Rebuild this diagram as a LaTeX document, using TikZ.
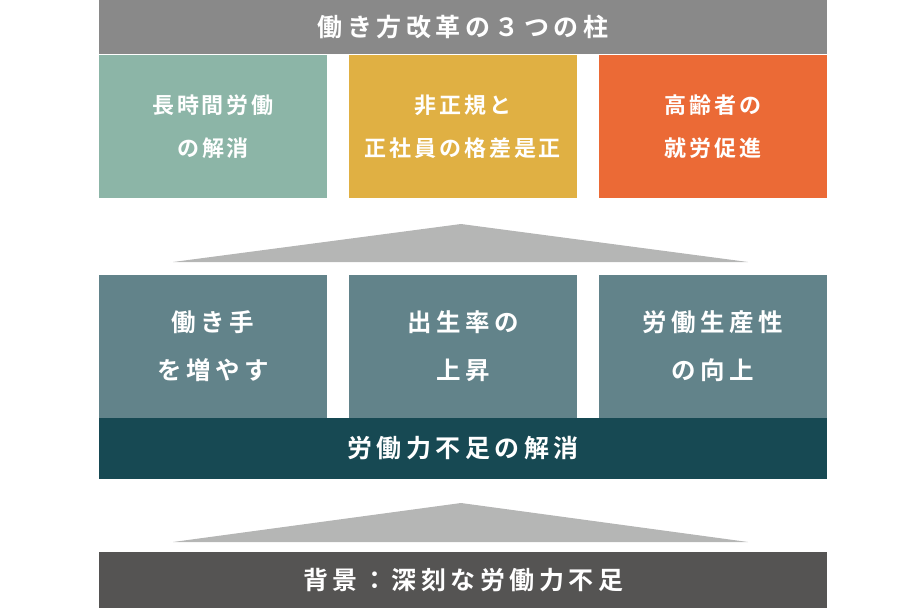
\documentclass[tikz,border=0pt]{standalone}
\usepackage{fontspec}
\setmainfont{Noto Sans CJK JP}[BoldFont={Noto Sans CJK JP Bold}]
\newfontfamily\boxfont{Noto Sans CJK JP Bold}[LetterSpace=13]
\newfontfamily\barfont{Noto Sans CJK JP Bold}[LetterSpace=18]

\definecolor{topgray}{HTML}{898989}
\definecolor{sage}{HTML}{8CB5A7}
\definecolor{mustard}{HTML}{E0B043}
\definecolor{orange}{HTML}{EB6A36}
\definecolor{slate}{HTML}{62838A}
\definecolor{deepteal}{HTML}{174953}
\definecolor{tri}{HTML}{B5B6B5}
\definecolor{charcoal}{HTML}{555453}

\tikzset{
    bar/.style={rectangle, inner sep=0pt, minimum width=728pt, text=white,
        font=\barfont\fontsize{25}{28}\selectfont},
    pillar/.style={rectangle, inner sep=0pt, minimum width=228pt, minimum height=143pt,
        text=white, align=center, font=\boxfont\fontsize{22}{43}\selectfont},
    factor/.style={pillar, fill=slate, font=\barfont\fontsize{24.5}{48}\selectfont},
}

\begin{document}
\begin{tikzpicture}[x=1pt,y=-1pt]
    \useasboundingbox (0,0) rectangle (921,608);

    % top: the three pillars
    \node[bar, fill=topgray, minimum height=54pt] (title) at (463,27) {働き方改革の３つの柱};
    \node[pillar, fill=sage] (hours) at (213,126.5) {長時間労働\\の解消};
    \node[pillar, fill=mustard] (gap) at (463,126.5) {非正規と\\正社員の格差是正};
    \node[pillar, fill=orange] (elder) at (713,126.5) {高齢者の\\就労促進};

    \fill[tri] (173,262) -- (461,224) -- (748,262) -- cycle;

    % middle: what they aim at
    \node[factor] (workers) at (213,346.5) {働き手\\を増やす};
    \node[factor] (birth) at (463,346.5) {出生率の\\上昇};
    \node[factor] (product) at (713,346.5) {労働生産性\\の向上};
    \node[bar, fill=deepteal, minimum height=61pt] (shortage) at (463,448.5) {労働力不足の解消};

    \fill[tri] (173,542) -- (461,503) -- (748,542) -- cycle;

    % bottom: background
    \node[bar, fill=charcoal, minimum height=56pt] (background) at (463,580) {背景：深刻な労働力不足};
\end{tikzpicture}
\end{document}
